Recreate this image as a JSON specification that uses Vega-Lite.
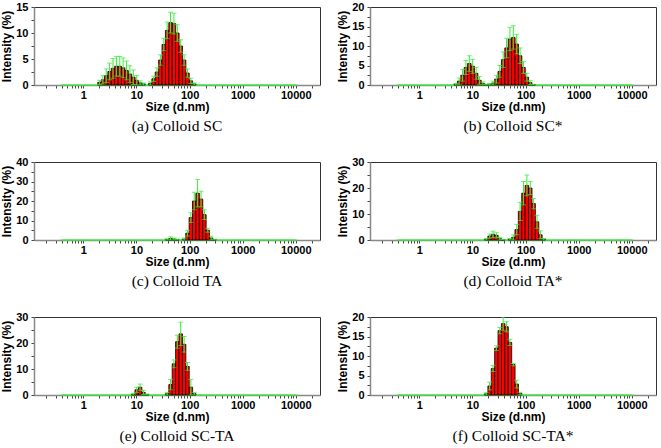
{
  "$schema": "https://vega.github.io/schema/vega-lite/v6.json",
  "padding": {"left": 0, "top": 0, "right": 0, "bottom": 0},
  "columns": 2,
  "spacing": {"row": 20, "column": 15},
  "config": {
    "view": {"stroke": "#333", "strokeWidth": 1},
    "axis": {"labelFont": "Liberation Sans", "labelFontWeight": "bold", "labelFontSize": 11, "labelColor": "#000", "titleFont": "Liberation Sans", "titleFontWeight": "bold", "titleFontSize": 12, "titleColor": "#000", "grid": false, "domainColor": "#888", "domainWidth": 1.5, "tickColor": "#444", "tickSize": 3},
    "axisY": {"titlePadding": 2, "labelPadding": 3},
    "axisX": {"labelPadding": 1, "titlePadding": 1, "labelFlush": false},
    "title": {"font": "Liberation Serif", "fontSize": 15.5, "fontWeight": "normal", "orient": "bottom", "offset": 7, "color": "#000", "anchor": "middle"}
  },
  "datasets": {
    "bins": [
      {"s":0.4,"v":0},{"s":0.4632,"v":0},{"s":0.5365,"v":0},{"s":0.6213,"v":0},{"s":0.7195,"v":0},{"s":0.8332,"v":0},{"s":0.9649,"v":0},{"s":1.117,"v":0},{"s":1.294,"v":0},{"s":1.499,"v":0},
      {"s":1.736,"v":0},{"s":2.01,"v":0},{"s":2.328,"v":0},{"s":2.696,"v":0},{"s":3.122,"v":0},{"s":3.615,"v":0},{"s":4.187,"v":0},{"s":4.849,"v":0},{"s":5.615,"v":0},{"s":6.503,"v":0},
      {"s":7.531,"v":0},{"s":8.721,"v":0},{"s":10.1,"v":0},{"s":11.7,"v":0},{"s":13.54,"v":0},{"s":15.69,"v":0},{"s":18.17,"v":0},{"s":21.04,"v":0},{"s":24.36,"v":0},{"s":28.21,"v":0},
      {"s":32.67,"v":0},{"s":37.84,"v":0},{"s":43.82,"v":0},{"s":50.75,"v":0},{"s":58.77,"v":0},{"s":68.06,"v":0},{"s":78.82,"v":0},{"s":91.28,"v":0},{"s":105.7,"v":0},{"s":122.4,"v":0},
      {"s":141.8,"v":0},{"s":164.2,"v":0},{"s":190.1,"v":0},{"s":220.2,"v":0},{"s":255,"v":0},{"s":295.3,"v":0},{"s":342,"v":0},{"s":396.1,"v":0},{"s":458.7,"v":0},{"s":531.2,"v":0},
      {"s":615.1,"v":0},{"s":712.4,"v":0},{"s":825,"v":0},{"s":955.4,"v":0},{"s":1106,"v":0},{"s":1281,"v":0},{"s":1484,"v":0},{"s":1718,"v":0},{"s":1990,"v":0},{"s":2305,"v":0},
      {"s":2669,"v":0},{"s":3091,"v":0},{"s":3580,"v":0},{"s":4145,"v":0},{"s":4801,"v":0},{"s":5560,"v":0},{"s":6439,"v":0},{"s":7456,"v":0},{"s":8635,"v":0},{"s":10000,"v":0}
    ],
    "dist": [
      {"p":"a","s":2.01,"v":0.5,"e":0.4},{"p":"a","s":2.328,"v":1.0,"e":0.8},{"p":"a","s":2.696,"v":1.8,"e":1.3},{"p":"a","s":3.122,"v":2.6,"e":1.6},{"p":"a","s":3.615,"v":3.2,"e":1.9},
      {"p":"a","s":4.187,"v":3.6,"e":1.9},{"p":"a","s":4.849,"v":3.6,"e":1.9},{"p":"a","s":5.615,"v":3.3,"e":1.9},{"p":"a","s":6.503,"v":2.8,"e":1.8},{"p":"a","s":7.531,"v":2.1,"e":1.6},
      {"p":"a","s":8.721,"v":1.5,"e":1.4},{"p":"a","s":10.1,"v":0.9,"e":0.9},{"p":"a","s":11.7,"v":0.4,"e":0.4},{"p":"a","s":13.54,"v":0.2,"e":0.2},{"p":"a","s":18.17,"v":0.3,"e":0.3},
      {"p":"a","s":21.04,"v":1.2,"e":0.5},{"p":"a","s":24.36,"v":2.5,"e":0.8},{"p":"a","s":28.21,"v":4.8,"e":1.0},{"p":"a","s":32.67,"v":7.8,"e":1.2},{"p":"a","s":37.84,"v":10.5,"e":1.6},
      {"p":"a","s":43.82,"v":12.0,"e":2.0},{"p":"a","s":50.75,"v":11.8,"e":2.0},{"p":"a","s":58.77,"v":10.0,"e":1.6},{"p":"a","s":68.06,"v":7.5,"e":1.2},{"p":"a","s":78.82,"v":4.8,"e":1.0},
      {"p":"a","s":91.28,"v":2.3,"e":0.8},{"p":"a","s":105.7,"v":0.8,"e":0.5},{"p":"a","s":122.4,"v":0.2,"e":0.2},

      {"p":"b","s":4.849,"v":0.2,"e":0.2},{"p":"b","s":5.615,"v":1.0,"e":0.8},{"p":"b","s":6.503,"v":2.5,"e":1.5},{"p":"b","s":7.531,"v":4.5,"e":1.8},{"p":"b","s":8.721,"v":5.5,"e":2.0},
      {"p":"b","s":10.1,"v":4.8,"e":1.8},{"p":"b","s":11.7,"v":3.0,"e":1.5},{"p":"b","s":13.54,"v":1.2,"e":1.0},{"p":"b","s":15.69,"v":0.4,"e":0.4},{"p":"b","s":18.17,"v":0.1,"e":0.1},
      {"p":"b","s":21.04,"v":0.2,"e":0.2},{"p":"b","s":24.36,"v":0.5,"e":0.5},{"p":"b","s":28.21,"v":1.5,"e":1.0},{"p":"b","s":32.67,"v":3.5,"e":1.5},{"p":"b","s":37.84,"v":6.5,"e":2.0},
      {"p":"b","s":43.82,"v":9.5,"e":2.5},{"p":"b","s":50.75,"v":11.8,"e":3.0},{"p":"b","s":58.77,"v":12.2,"e":3.0},{"p":"b","s":68.06,"v":10.5,"e":2.5},{"p":"b","s":78.82,"v":7.5,"e":2.0},
      {"p":"b","s":91.28,"v":4.5,"e":1.5},{"p":"b","s":105.7,"v":2.0,"e":1.0},{"p":"b","s":122.4,"v":0.6,"e":0.5},{"p":"b","s":141.8,"v":0.1,"e":0.1},

      {"p":"c","s":37.84,"v":0.3,"e":0.3},{"p":"c","s":43.82,"v":0.8,"e":0.8},{"p":"c","s":50.75,"v":0.5,"e":0.5},{"p":"c","s":58.77,"v":0.2,"e":0.2},{"p":"c","s":78.82,"v":0.5,"e":0.5},
      {"p":"c","s":91.28,"v":3.5,"e":1.5},{"p":"c","s":105.7,"v":11.5,"e":2.5},{"p":"c","s":122.4,"v":20.0,"e":4.5},{"p":"c","s":141.8,"v":24.0,"e":7.0},{"p":"c","s":164.2,"v":21.0,"e":4.0},
      {"p":"c","s":190.1,"v":13.0,"e":2.5},{"p":"c","s":220.2,"v":5.0,"e":1.0},{"p":"c","s":255,"v":1.0,"e":1.0},{"p":"c","s":295.3,"v":0.2,"e":0.2},

      {"p":"d","s":18.17,"v":0.3,"e":0.3},{"p":"d","s":21.04,"v":1.5,"e":0.8},{"p":"d","s":24.36,"v":2.2,"e":1.2},{"p":"d","s":28.21,"v":1.8,"e":1.0},{"p":"d","s":32.67,"v":0.5,"e":0.5},
      {"p":"d","s":37.84,"v":0.1,"e":0.1},{"p":"d","s":50.75,"v":0.3,"e":0.3},{"p":"d","s":58.77,"v":1.0,"e":1.0},{"p":"d","s":68.06,"v":4.0,"e":2.0},{"p":"d","s":78.82,"v":11.0,"e":3.5},
      {"p":"d","s":91.28,"v":18.0,"e":4.5},{"p":"d","s":105.7,"v":21.0,"e":4.0},{"p":"d","s":122.4,"v":20.0,"e":2.5},{"p":"d","s":141.8,"v":14.0,"e":2.0},{"p":"d","s":164.2,"v":7.0,"e":2.5},
      {"p":"d","s":190.1,"v":2.0,"e":1.5},{"p":"d","s":220.2,"v":0.3,"e":0.3},

      {"p":"e","s":8.721,"v":0.3,"e":0.3},{"p":"e","s":10.1,"v":2.0,"e":1.0},{"p":"e","s":11.7,"v":3.0,"e":1.2},{"p":"e","s":13.54,"v":1.0,"e":0.8},{"p":"e","s":15.69,"v":0.2,"e":0.2},
      {"p":"e","s":37.84,"v":0.5,"e":0.5},{"p":"e","s":43.82,"v":4.0,"e":2.0},{"p":"e","s":50.75,"v":12.0,"e":1.5},{"p":"e","s":58.77,"v":20.5,"e":2.5},{"p":"e","s":68.06,"v":23.5,"e":4.5},
      {"p":"e","s":78.82,"v":19.5,"e":3.0},{"p":"e","s":91.28,"v":11.0,"e":1.5},{"p":"e","s":105.7,"v":3.0,"e":3.0},{"p":"e","s":122.4,"v":0.5,"e":0.5},

      {"p":"f","s":18.17,"v":0.3,"e":0.3},{"p":"f","s":21.04,"v":2.3,"e":1.0},{"p":"f","s":24.36,"v":6.8,"e":0.8},{"p":"f","s":28.21,"v":12.0,"e":0.6},{"p":"f","s":32.67,"v":16.5,"e":0.8},
      {"p":"f","s":37.84,"v":18.3,"e":1.7},{"p":"f","s":43.82,"v":17.5,"e":1.3},{"p":"f","s":50.75,"v":13.5,"e":0.8},{"p":"f","s":58.77,"v":7.8,"e":0.3},{"p":"f","s":68.06,"v":2.8,"e":1.0},
      {"p":"f","s":78.82,"v":0.4,"e":0.3}
    ]
  },
  "concat": [
    {
      "width": 286, "height": 78, "title": "(a) Colloid SC",
      "data": {"name": "dist"}, "transform": [{"filter": "datum.p == 'a'"}],
      "encoding": {
        "x": {"field": "s", "type": "quantitative", "scale": {"type": "log", "domain": [0.146, 23000]}, "axis": {"title": "Size (d.nm)", "values": [0.2,0.3,0.4,0.5,0.6,0.7,0.8,0.9,1,2,3,4,5,6,7,8,9,10,20,30,40,50,60,70,80,90,100,200,300,400,500,600,700,800,900,1000,2000,3000,4000,5000,6000,7000,8000,9000,10000,20000], "labelExpr": "abs(log(datum.value)/LN10 - round(log(datum.value)/LN10)) < 0.01 ? datum.value + '' : ''"}},
        "y": {"field": "v", "type": "quantitative", "scale": {"domain": [0, 15]}, "axis": {"title": "Intensity (%)", "values": [0,2.5,5,7.5,10,12.5,15], "labelExpr": "datum.value % 5 == 0 ? datum.label : ''"}}
      },
      "layer": [
        {"data": {"name": "bins"}, "mark": {"type": "line", "color": "#33ee33", "strokeWidth": 1}},
        {"data": {"name": "bins"}, "mark": {"type": "tick", "orient": "horizontal", "color": "#33ee33", "size": 4, "thickness": 1}},
        {"mark": {"type": "bar", "orient": "vertical", "size": 3.5, "color": "#ff0000", "stroke": "#000", "strokeWidth": 0.8}},
        {"mark": {"type": "errorbar", "ticks": {"size": 5, "color": "#33ee33"}, "color": "#33ee33", "clip": true}, "encoding": {"yError": {"field": "e"}}}
      ]
    },
    {
      "width": 286, "height": 78, "title": "(b) Colloid SC*",
      "data": {"name": "dist"}, "transform": [{"filter": "datum.p == 'b'"}],
      "encoding": {
        "x": {"field": "s", "type": "quantitative", "scale": {"type": "log", "domain": [0.146, 23000]}, "axis": {"title": "Size (d.nm)", "values": [0.2,0.3,0.4,0.5,0.6,0.7,0.8,0.9,1,2,3,4,5,6,7,8,9,10,20,30,40,50,60,70,80,90,100,200,300,400,500,600,700,800,900,1000,2000,3000,4000,5000,6000,7000,8000,9000,10000,20000], "labelExpr": "abs(log(datum.value)/LN10 - round(log(datum.value)/LN10)) < 0.01 ? datum.value + '' : ''"}},
        "y": {"field": "v", "type": "quantitative", "scale": {"domain": [0, 20]}, "axis": {"title": "Intensity (%)", "values": [0,2.5,5,7.5,10,12.5,15,17.5,20], "labelExpr": "datum.value % 5 == 0 ? datum.label : ''"}}
      },
      "layer": [
        {"data": {"name": "bins"}, "mark": {"type": "line", "color": "#33ee33", "strokeWidth": 1}},
        {"data": {"name": "bins"}, "mark": {"type": "tick", "orient": "horizontal", "color": "#33ee33", "size": 4, "thickness": 1}},
        {"mark": {"type": "bar", "orient": "vertical", "size": 3.5, "color": "#ff0000", "stroke": "#000", "strokeWidth": 0.8}},
        {"mark": {"type": "errorbar", "ticks": {"size": 5, "color": "#33ee33"}, "color": "#33ee33", "clip": true}, "encoding": {"yError": {"field": "e"}}}
      ]
    },
    {
      "width": 286, "height": 78, "title": "(c) Colloid TA",
      "data": {"name": "dist"}, "transform": [{"filter": "datum.p == 'c'"}],
      "encoding": {
        "x": {"field": "s", "type": "quantitative", "scale": {"type": "log", "domain": [0.146, 23000]}, "axis": {"title": "Size (d.nm)", "values": [0.2,0.3,0.4,0.5,0.6,0.7,0.8,0.9,1,2,3,4,5,6,7,8,9,10,20,30,40,50,60,70,80,90,100,200,300,400,500,600,700,800,900,1000,2000,3000,4000,5000,6000,7000,8000,9000,10000,20000], "labelExpr": "abs(log(datum.value)/LN10 - round(log(datum.value)/LN10)) < 0.01 ? datum.value + '' : ''"}},
        "y": {"field": "v", "type": "quantitative", "scale": {"domain": [0, 40]}, "axis": {"title": "Intensity (%)", "values": [0,5,10,15,20,25,30,35,40], "labelExpr": "datum.value % 10 == 0 ? datum.label : ''"}}
      },
      "layer": [
        {"data": {"name": "bins"}, "mark": {"type": "line", "color": "#33ee33", "strokeWidth": 1}},
        {"data": {"name": "bins"}, "mark": {"type": "tick", "orient": "horizontal", "color": "#33ee33", "size": 4, "thickness": 1}},
        {"mark": {"type": "bar", "orient": "vertical", "size": 3.5, "color": "#ff0000", "stroke": "#000", "strokeWidth": 0.8}},
        {"mark": {"type": "errorbar", "ticks": {"size": 5, "color": "#33ee33"}, "color": "#33ee33", "clip": true}, "encoding": {"yError": {"field": "e"}}}
      ]
    },
    {
      "width": 286, "height": 78, "title": "(d) Colloid TA*",
      "data": {"name": "dist"}, "transform": [{"filter": "datum.p == 'd'"}],
      "encoding": {
        "x": {"field": "s", "type": "quantitative", "scale": {"type": "log", "domain": [0.146, 23000]}, "axis": {"title": "Size (d.nm)", "values": [0.2,0.3,0.4,0.5,0.6,0.7,0.8,0.9,1,2,3,4,5,6,7,8,9,10,20,30,40,50,60,70,80,90,100,200,300,400,500,600,700,800,900,1000,2000,3000,4000,5000,6000,7000,8000,9000,10000,20000], "labelExpr": "abs(log(datum.value)/LN10 - round(log(datum.value)/LN10)) < 0.01 ? datum.value + '' : ''"}},
        "y": {"field": "v", "type": "quantitative", "scale": {"domain": [0, 30]}, "axis": {"title": "Intensity (%)", "values": [0,5,10,15,20,25,30], "labelExpr": "datum.value % 10 == 0 ? datum.label : ''"}}
      },
      "layer": [
        {"data": {"name": "bins"}, "mark": {"type": "line", "color": "#33ee33", "strokeWidth": 1}},
        {"data": {"name": "bins"}, "mark": {"type": "tick", "orient": "horizontal", "color": "#33ee33", "size": 4, "thickness": 1}},
        {"mark": {"type": "bar", "orient": "vertical", "size": 3.5, "color": "#ff0000", "stroke": "#000", "strokeWidth": 0.8}},
        {"mark": {"type": "errorbar", "ticks": {"size": 5, "color": "#33ee33"}, "color": "#33ee33", "clip": true}, "encoding": {"yError": {"field": "e"}}}
      ]
    },
    {
      "width": 286, "height": 78, "title": "(e) Colloid SC-TA",
      "data": {"name": "dist"}, "transform": [{"filter": "datum.p == 'e'"}],
      "encoding": {
        "x": {"field": "s", "type": "quantitative", "scale": {"type": "log", "domain": [0.146, 23000]}, "axis": {"title": "Size (d.nm)", "values": [0.2,0.3,0.4,0.5,0.6,0.7,0.8,0.9,1,2,3,4,5,6,7,8,9,10,20,30,40,50,60,70,80,90,100,200,300,400,500,600,700,800,900,1000,2000,3000,4000,5000,6000,7000,8000,9000,10000,20000], "labelExpr": "abs(log(datum.value)/LN10 - round(log(datum.value)/LN10)) < 0.01 ? datum.value + '' : ''"}},
        "y": {"field": "v", "type": "quantitative", "scale": {"domain": [0, 30]}, "axis": {"title": "Intensity (%)", "values": [0,5,10,15,20,25,30], "labelExpr": "datum.value % 10 == 0 ? datum.label : ''"}}
      },
      "layer": [
        {"data": {"name": "bins"}, "mark": {"type": "line", "color": "#33ee33", "strokeWidth": 1}},
        {"data": {"name": "bins"}, "mark": {"type": "tick", "orient": "horizontal", "color": "#33ee33", "size": 4, "thickness": 1}},
        {"mark": {"type": "bar", "orient": "vertical", "size": 3.5, "color": "#ff0000", "stroke": "#000", "strokeWidth": 0.8}},
        {"mark": {"type": "errorbar", "ticks": {"size": 5, "color": "#33ee33"}, "color": "#33ee33", "clip": true}, "encoding": {"yError": {"field": "e"}}}
      ]
    },
    {
      "width": 286, "height": 78, "title": "(f) Colloid SC-TA*",
      "data": {"name": "dist"}, "transform": [{"filter": "datum.p == 'f'"}],
      "encoding": {
        "x": {"field": "s", "type": "quantitative", "scale": {"type": "log", "domain": [0.146, 23000]}, "axis": {"title": "Size (d.nm)", "values": [0.2,0.3,0.4,0.5,0.6,0.7,0.8,0.9,1,2,3,4,5,6,7,8,9,10,20,30,40,50,60,70,80,90,100,200,300,400,500,600,700,800,900,1000,2000,3000,4000,5000,6000,7000,8000,9000,10000,20000], "labelExpr": "abs(log(datum.value)/LN10 - round(log(datum.value)/LN10)) < 0.01 ? datum.value + '' : ''"}},
        "y": {"field": "v", "type": "quantitative", "scale": {"domain": [0, 20]}, "axis": {"title": "Intensity (%)", "values": [0,2.5,5,7.5,10,12.5,15,17.5,20], "labelExpr": "datum.value % 5 == 0 ? datum.label : ''"}}
      },
      "layer": [
        {"data": {"name": "bins"}, "mark": {"type": "line", "color": "#33ee33", "strokeWidth": 1}},
        {"data": {"name": "bins"}, "mark": {"type": "tick", "orient": "horizontal", "color": "#33ee33", "size": 4, "thickness": 1}},
        {"mark": {"type": "bar", "orient": "vertical", "size": 3.5, "color": "#ff0000", "stroke": "#000", "strokeWidth": 0.8}},
        {"mark": {"type": "errorbar", "ticks": {"size": 5, "color": "#33ee33"}, "color": "#33ee33", "clip": true}, "encoding": {"yError": {"field": "e"}}}
      ]
    }
  ]
}
